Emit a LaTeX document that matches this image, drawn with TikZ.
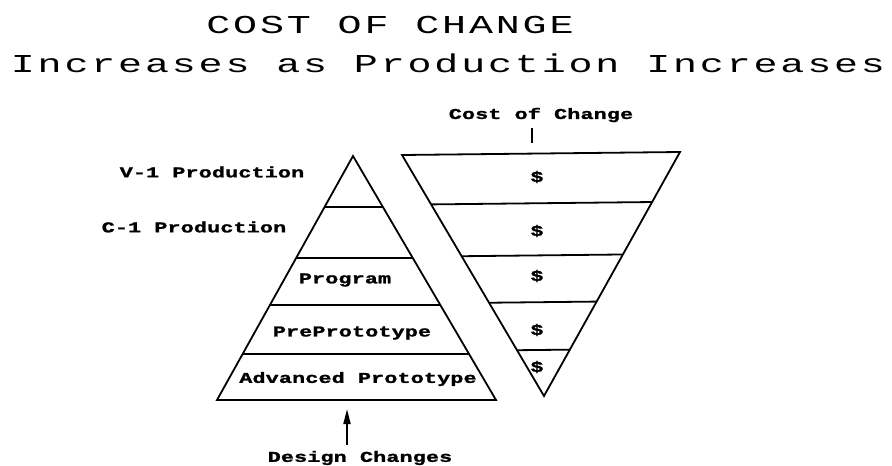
\documentclass[tikz,border=0pt]{standalone}
\usepackage{fontspec}
\newfontfamily\titlefont[FakeStretch=1.55,LetterSpace=11]{Liberation Mono}
\newfontfamily\labelfont[FakeStretch=1.45,LetterSpace=1,FakeBold=1.5]{Liberation Mono}
\usetikzlibrary{arrows.meta,calc}

\begin{document}
\begin{tikzpicture}[x=1pt,y=-1pt,line width=1.8pt,
		heading/.style={font=\titlefont\fontsize{25.8}{30}\selectfont},
		plotlabel/.style={font=\labelfont\bfseries\fontsize{15}{18}\selectfont}]
	\useasboundingbox (0,0) rectangle (892,466);
	
	% heading
	\node[heading] at (390,25) (head1){COST OF CHANGE};
	\node[heading] at (448,63) (head2){Increases as Production Increases};
	
	% design pyramid
	\coordinate (pa) at (353,156);
	\coordinate (pl) at (217,400);
	\coordinate (pr) at (496,400);
	\draw (pa) -- (pl) -- (pr) -- cycle;
	\foreach \t in {0.208,0.419,0.611,0.811}
		\draw ($(pa)!\t!(pl)$) -- ($(pa)!\t!(pr)$);
	
	% cost pyramid, upside down
	\coordinate (ca) at (544,396);
	\coordinate (cl) at (402,155);
	\coordinate (cr) at (680,152);
	\draw (ca) -- (cl) -- (cr) -- cycle;
	\foreach \t in {0.205,0.42,0.613,0.81}
		\draw ($(cl)!\t!(ca)$) -- ($(cr)!\t!(ca)$);
	
	% dollars
	\foreach \y in {177,231,276,330,367}
		\node[plotlabel] at (537,\y) (d\y){\$};
	
	% stages
	\node[plotlabel] at (212,172) (v1){V-1 Production};
	\node[plotlabel] at (194,227) (c1){C-1 Production};
	\node[plotlabel] at (345,280) (prog){Program};
	\node[plotlabel] at (352,333) (prepro){PrePrototype};
	\node[plotlabel] at (358,379) (advpro){Advanced Prototype};
	
	% cost of change
	\node[plotlabel] at (541,115) (cost){Cost of Change};
	\coordinate (costtop) at (532,128);
	\coordinate (costbot) at (532,143);
	\draw (costtop) -- (costbot);
	
	% design changes
	\node[plotlabel] at (360,458) (design){Design Changes};
	\coordinate (dtop) at (347,409);
	\coordinate (dbot) at (347,445);
	\draw[-{Triangle[length=15pt,width=7pt]}] (dbot) -- (dtop);
\end{tikzpicture}
\end{document}
